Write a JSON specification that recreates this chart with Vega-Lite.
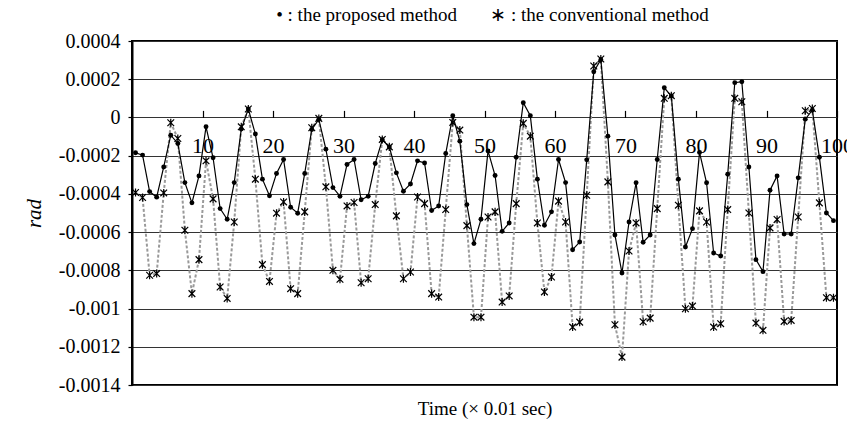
{
  "$schema": "https://vega.github.io/schema/vega-lite/v6.json",
  "width": 705,
  "height": 344,
  "autosize": {"type": "none"},
  "padding": {"left": 132, "top": 41, "right": 10, "bottom": 40},
  "background": "white",
  "config": {
    "font": "Liberation Serif",
    "view": {"stroke": "black", "strokeWidth": 2},
    "axis": {"labelFont": "Liberation Serif", "titleFont": "Liberation Serif"},
    "axisY": {
      "labelFontSize": 20,
      "labelColor": "black",
      "labelPadding": 8,
      "tickSize": 4,
      "tickColor": "black",
      "tickWidth": 1.2,
      "domainColor": "black",
      "domainWidth": 2,
      "grid": true,
      "gridColor": "#333333",
      "gridWidth": 1.2,
      "titleFontSize": 21,
      "titleFontStyle": "italic",
      "titleFontWeight": "normal",
      "titleColor": "black",
      "titlePadding": 14,
      "labelOverlap": false,
      "labelFlush": false
    }
  },
  "title": {
    "text": "•\u00a0: the proposed method\u00a0\u00a0\u00a0\u00a0\u00a0\u00a0\u00a0∗\u00a0: the conventional method",
    "font": "Liberation Serif",
    "fontSize": 19,
    "fontWeight": "normal",
    "color": "black",
    "anchor": "middle",
    "dx": 8,
    "offset": 6
  },
  "data": {
    "values": [
      {"t": 1, "proposed": -0.000185, "conventional": -0.000393},
      {"t": 2, "proposed": -0.000197, "conventional": -0.000419},
      {"t": 3, "proposed": -0.000388, "conventional": -0.000826},
      {"t": 4, "proposed": -0.000417, "conventional": -0.000817},
      {"t": 5, "proposed": -0.000259, "conventional": -0.000395},
      {"t": 6, "proposed": -0.000093, "conventional": -0.000028},
      {"t": 7, "proposed": -0.000136, "conventional": -0.00011},
      {"t": 8, "proposed": -0.000341, "conventional": -0.00059},
      {"t": 9, "proposed": -0.000447, "conventional": -0.000922},
      {"t": 10, "proposed": -0.000306, "conventional": -0.000744},
      {"t": 11, "proposed": -0.000049, "conventional": -0.000227},
      {"t": 12, "proposed": -0.000211, "conventional": -0.000426},
      {"t": 13, "proposed": -0.000477, "conventional": -0.000887},
      {"t": 14, "proposed": -0.000533, "conventional": -0.000947},
      {"t": 15, "proposed": -0.000341, "conventional": -0.000547},
      {"t": 16, "proposed": -0.000061, "conventional": -0.000049},
      {"t": 17, "proposed": 0.000044, "conventional": 0.000044},
      {"t": 18, "proposed": -0.000087, "conventional": -0.000323},
      {"t": 19, "proposed": -0.000323, "conventional": -0.00077},
      {"t": 20, "proposed": -0.00041, "conventional": -0.000858},
      {"t": 21, "proposed": -0.000293, "conventional": -0.000501},
      {"t": 22, "proposed": -0.00022, "conventional": -0.000442},
      {"t": 23, "proposed": -0.00047, "conventional": -0.000896},
      {"t": 24, "proposed": -0.000501, "conventional": -0.000922},
      {"t": 25, "proposed": -0.000293, "conventional": -0.000494},
      {"t": 26, "proposed": -0.000063, "conventional": -0.000054},
      {"t": 27, "proposed": -0.00001, "conventional": -0.000005},
      {"t": 28, "proposed": -0.000166, "conventional": -0.000363},
      {"t": 29, "proposed": -0.000367, "conventional": -0.0008},
      {"t": 30, "proposed": -0.000412, "conventional": -0.000847},
      {"t": 31, "proposed": -0.000246, "conventional": -0.000463},
      {"t": 32, "proposed": -0.00022, "conventional": -0.000445},
      {"t": 33, "proposed": -0.000431, "conventional": -0.000865},
      {"t": 34, "proposed": -0.000412, "conventional": -0.000844},
      {"t": 35, "proposed": -0.000241, "conventional": -0.000456},
      {"t": 36, "proposed": -0.000117, "conventional": -0.000115},
      {"t": 37, "proposed": -0.000154, "conventional": -0.000154},
      {"t": 38, "proposed": -0.00029, "conventional": -0.000515},
      {"t": 39, "proposed": -0.000386, "conventional": -0.000844},
      {"t": 40, "proposed": -0.000348, "conventional": -0.000809},
      {"t": 41, "proposed": -0.000227, "conventional": -0.000416},
      {"t": 42, "proposed": -0.000238, "conventional": -0.000451},
      {"t": 43, "proposed": -0.000487, "conventional": -0.000922},
      {"t": 44, "proposed": -0.000463, "conventional": -0.00094},
      {"t": 45, "proposed": -0.000189, "conventional": -0.000482},
      {"t": 46, "proposed": 0.000009, "conventional": -0.000026},
      {"t": 47, "proposed": -0.000124, "conventional": -0.000066},
      {"t": 48, "proposed": -0.000456, "conventional": -0.000566},
      {"t": 49, "proposed": -0.00066, "conventional": -0.001045},
      {"t": 50, "proposed": -0.000533, "conventional": -0.001045},
      {"t": 51, "proposed": -0.000175, "conventional": -0.000521},
      {"t": 52, "proposed": -0.000304, "conventional": -0.000494},
      {"t": 53, "proposed": -0.000596, "conventional": -0.000966},
      {"t": 54, "proposed": -0.000552, "conventional": -0.000934},
      {"t": 55, "proposed": -0.000208, "conventional": -0.000451},
      {"t": 56, "proposed": 0.000077, "conventional": -0.000031},
      {"t": 57, "proposed": 0.000009, "conventional": -0.000098},
      {"t": 58, "proposed": -0.000323, "conventional": -0.000552},
      {"t": 59, "proposed": -0.000564, "conventional": -0.000913},
      {"t": 60, "proposed": -0.000494, "conventional": -0.000835},
      {"t": 61, "proposed": -0.00022, "conventional": -0.000438},
      {"t": 62, "proposed": -0.000341, "conventional": -0.000547},
      {"t": 63, "proposed": -0.000692, "conventional": -0.001097},
      {"t": 64, "proposed": -0.000652, "conventional": -0.001071},
      {"t": 65, "proposed": -0.000222, "conventional": -0.000407},
      {"t": 66, "proposed": 0.000239, "conventional": 0.000269},
      {"t": 67, "proposed": 0.000302, "conventional": 0.000306},
      {"t": 68, "proposed": -0.000098, "conventional": -0.000337},
      {"t": 69, "proposed": -0.000615, "conventional": -0.001085},
      {"t": 70, "proposed": -0.000814, "conventional": -0.001254},
      {"t": 71, "proposed": -0.000547, "conventional": -0.000699},
      {"t": 72, "proposed": -0.000342, "conventional": -0.000552},
      {"t": 73, "proposed": -0.000653, "conventional": -0.001069},
      {"t": 74, "proposed": -0.000615, "conventional": -0.00105},
      {"t": 75, "proposed": -0.00022, "conventional": -0.000477},
      {"t": 76, "proposed": 0.000155, "conventional": 0.0001},
      {"t": 77, "proposed": 0.000112, "conventional": 0.000114},
      {"t": 78, "proposed": -0.000323, "conventional": -0.000459},
      {"t": 79, "proposed": -0.000678, "conventional": -0.001001},
      {"t": 80, "proposed": -0.000582, "conventional": -0.000987},
      {"t": 81, "proposed": -0.000183, "conventional": -0.000489},
      {"t": 82, "proposed": -0.000342, "conventional": -0.000547},
      {"t": 83, "proposed": -0.000709, "conventional": -0.001097},
      {"t": 84, "proposed": -0.000725, "conventional": -0.001079},
      {"t": 85, "proposed": -0.000297, "conventional": -0.000482},
      {"t": 86, "proposed": 0.000182, "conventional": 0.0001},
      {"t": 87, "proposed": 0.000187, "conventional": 0.000082},
      {"t": 88, "proposed": -0.000259, "conventional": -0.0005},
      {"t": 89, "proposed": -0.000744, "conventional": -0.001076},
      {"t": 90, "proposed": -0.000807, "conventional": -0.001114},
      {"t": 91, "proposed": -0.000381, "conventional": -0.000578},
      {"t": 92, "proposed": -0.000306, "conventional": -0.000534},
      {"t": 93, "proposed": -0.00061, "conventional": -0.001067},
      {"t": 94, "proposed": -0.00061, "conventional": -0.001062},
      {"t": 95, "proposed": -0.000316, "conventional": -0.000521},
      {"t": 96, "proposed": -0.000009, "conventional": 0.000035},
      {"t": 97, "proposed": 0.000038, "conventional": 0.000047},
      {"t": 98, "proposed": -0.000208, "conventional": -0.000447},
      {"t": 99, "proposed": -0.0005, "conventional": -0.000943},
      {"t": 100, "proposed": -0.00054, "conventional": -0.000943}
    ]
  },
  "encoding": {
    "x": {
      "field": "t",
      "type": "quantitative",
      "scale": {"domain": [0.5, 100.5], "nice": false, "zero": false},
      "axis": {
        "values": [10.5, 20.5, 30.5, 40.5, 50.5, 60.5, 70.5, 80.5, 90.5, 100.5],
        "labelExpr": "toString(datum.value - 0.5)",
        "offset": -267.6,
        "domain": false,
        "grid": false,
        "tickSize": -7,
        "tickColor": "black",
        "tickWidth": 1.2,
        "labelFont": "Liberation Serif",
        "labelFontSize": 22,
        "labelColor": "black",
        "labelPadding": 25,
        "labelFlush": false,
        "labelOverlap": false,
        "labelBound": false,
        "title": "Time (× 0.01 sec)",
        "titleFont": "Liberation Serif",
        "titleFontSize": 19,
        "titleFontWeight": "normal",
        "titleColor": "black",
        "titleBaseline": "middle",
        "titleY": 291
      }
    },
    "y": {
      "type": "quantitative",
      "title": "rad",
      "scale": {"domain": [-0.0014, 0.0004], "nice": false, "zero": false},
      "axis": {
        "values": [0.0004, 0.0002, 0, -0.0002, -0.0004, -0.0006, -0.0008, -0.001, -0.0012, -0.0014],
        "labelExpr": "toString(datum.value)",
        "labelFont": "Liberation Serif",
        "titleFont": "Liberation Serif"
      }
    }
  },
  "layer": [
    {
      "mark": {"type": "line", "stroke": "#9a9a9a", "strokeWidth": 2, "strokeDash": [3, 2]},
      "encoding": {
        "y": {
          "field": "conventional",
          "type": "quantitative",
          "title": "rad",
          "scale": {"domain": [-0.0014, 0.0004], "nice": false, "zero": false},
          "axis": {
            "values": [0.0004, 0.0002, 0, -0.0002, -0.0004, -0.0006, -0.0008, -0.001, -0.0012, -0.0014],
            "labelExpr": "toString(datum.value)",
            "labelFont": "Liberation Serif",
            "titleFont": "Liberation Serif"
          }
        }
      }
    },
    {
      "mark": {"type": "point", "shape": "M-1,-1L1,1M1,-1L-1,1M0,-1.2L0,1.2", "stroke": "black", "strokeWidth": 1.2, "size": 45, "filled": false, "opacity": 1},
      "encoding": {
        "y": {
          "field": "conventional",
          "type": "quantitative",
          "title": "rad",
          "axis": {
            "values": [0.0004, 0.0002, 0, -0.0002, -0.0004, -0.0006, -0.0008, -0.001, -0.0012, -0.0014],
            "labelExpr": "toString(datum.value)",
            "labelFont": "Liberation Serif",
            "titleFont": "Liberation Serif"
          }
        }
      }
    },
    {
      "mark": {"type": "line", "stroke": "black", "strokeWidth": 1.2},
      "encoding": {
        "y": {
          "field": "proposed",
          "type": "quantitative",
          "title": "rad",
          "axis": {
            "values": [0.0004, 0.0002, 0, -0.0002, -0.0004, -0.0006, -0.0008, -0.001, -0.0012, -0.0014],
            "labelExpr": "toString(datum.value)",
            "labelFont": "Liberation Serif",
            "titleFont": "Liberation Serif"
          }
        }
      }
    },
    {
      "mark": {"type": "circle", "color": "black", "size": 24, "opacity": 1},
      "encoding": {
        "y": {
          "field": "proposed",
          "type": "quantitative",
          "title": "rad",
          "axis": {
            "values": [0.0004, 0.0002, 0, -0.0002, -0.0004, -0.0006, -0.0008, -0.001, -0.0012, -0.0014],
            "labelExpr": "toString(datum.value)",
            "labelFont": "Liberation Serif",
            "titleFont": "Liberation Serif"
          }
        }
      }
    }
  ]
}
